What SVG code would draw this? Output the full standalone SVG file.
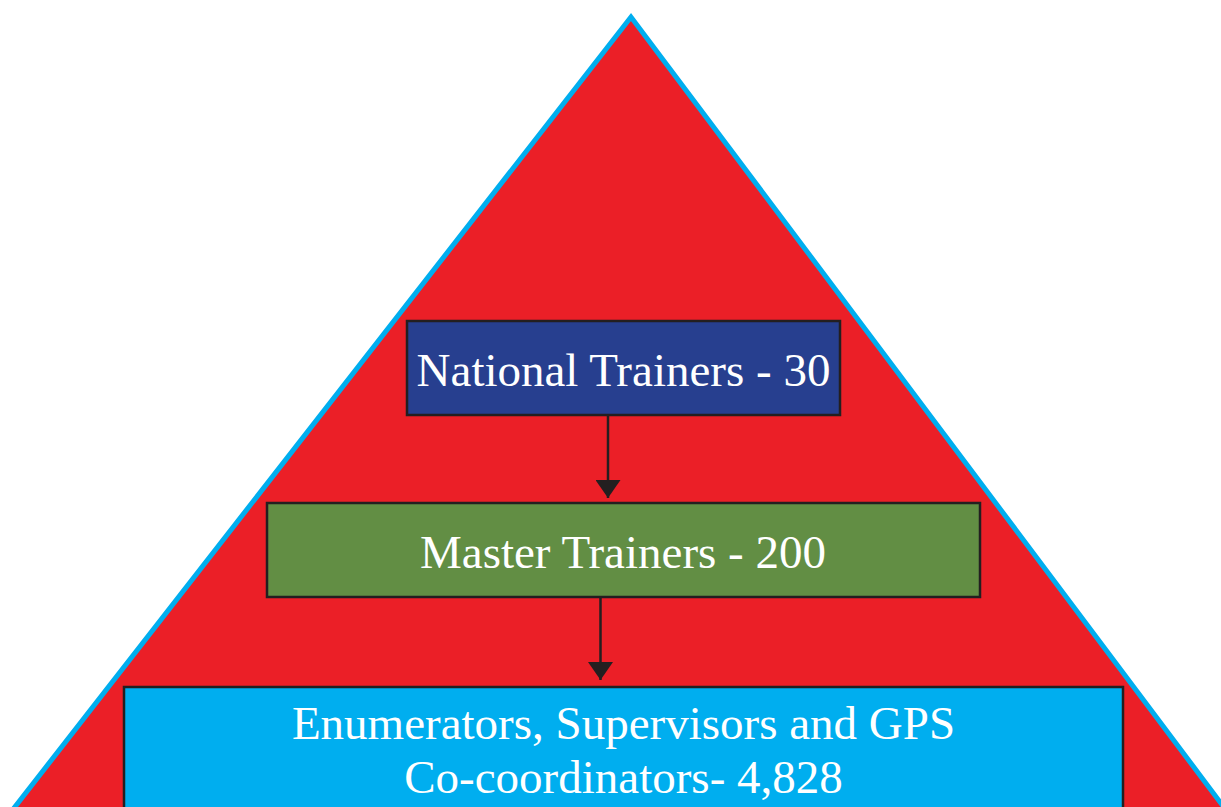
<svg xmlns="http://www.w3.org/2000/svg" width="1221" height="807" viewBox="0 0 1221 807">
<defs>
<style>
.box{stroke:#231F20;stroke-width:2.5}
.lbl{font-family:"Liberation Serif","Times New Roman",serif;font-size:47px;fill:#FFFFFF;text-anchor:middle}
.conn{stroke:#231F20;stroke-width:2.5;fill:none}
</style>
<marker id="arrow" viewBox="0 0 18 25" refX="18" refY="12.5" markerWidth="18" markerHeight="25" markerUnits="userSpaceOnUse" orient="auto">
<path d="M0,0 L18,12.5 L0,25 Z" fill="#231F20"/>
</marker>
</defs>
<rect width="1221" height="807" fill="#FFFFFF"/>
<g id="pyramid">
<polygon points="631,17 0,826 1238,826" fill="#EB1F27" stroke="#00AEEF" stroke-width="5" stroke-linejoin="miter"/>
</g>
<g id="connectors">
<line class="conn" x1="608" y1="415" x2="608" y2="498" marker-end="url(#arrow)"/>
<line class="conn" x1="600.5" y1="597" x2="600.5" y2="680" marker-end="url(#arrow)"/>
</g>
<g id="national">
<rect class="box" x="407" y="321" width="433" height="94" fill="#273F8F"/>
<text class="lbl" x="623.5" y="386">National Trainers - 30</text>
</g>
<g id="master">
<rect class="box" x="267" y="503" width="713" height="94" fill="#628E44"/>
<text class="lbl" x="623" y="568">Master Trainers - 200</text>
</g>
<g id="enumerators">
<rect class="box" x="124" y="687" width="999" height="140" fill="#00AEEF"/>
<text class="lbl" x="623.5" y="739">Enumerators, Supervisors and GPS</text>
<text class="lbl" x="623.5" y="793">Co-coordinators- 4,828</text>
</g>
</svg>
